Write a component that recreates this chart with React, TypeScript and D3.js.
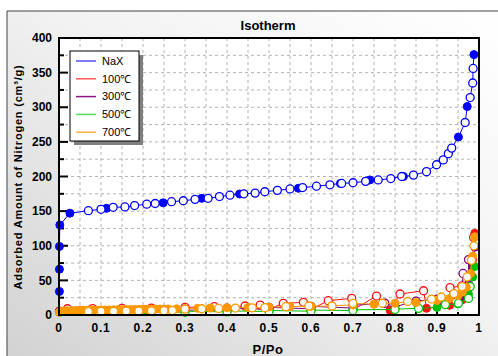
import React from 'react';
import * as d3 from 'd3';

// NaX
const naxAdsP = [0.001, 0.001, 0.001, 0.002, 0.026, 0.113, 0.248, 0.34, 0.43, 0.57, 0.67, 0.74, 0.82, 0.951, 0.972, 0.988];
const naxAdsV = [34, 66, 99, 130, 147, 154, 162, 168.5, 174.7, 183, 190, 195, 200, 257, 301, 376];
const naxDesP = [0.07, 0.1, 0.129, 0.157, 0.18, 0.209, 0.229, 0.268, 0.296, 0.324, 0.355, 0.382, 0.407, 0.44, 0.467, 0.49, 0.52, 0.55, 0.58, 0.613, 0.645, 0.673, 0.7, 0.73, 0.76, 0.79, 0.816, 0.844, 0.875, 0.899, 0.915, 0.927, 0.935, 0.967, 0.979, 0.985, 0.986];
const naxDesV = [150.6, 152.6, 155.5, 156, 158, 160, 161, 163.6, 165, 167, 168.5, 171, 173, 175, 176, 178, 180, 182, 184, 186, 188, 190, 191, 193, 195, 197, 200, 202, 207, 217, 224, 233, 241, 278, 314, 335, 356];

// 100℃
const t100AdsP = [0.001, 0.05, 0.1, 0.2, 0.3, 0.4, 0.5, 0.6, 0.7, 0.788, 0.875, 0.93, 0.96, 0.975, 0.985, 0.99];
const t100AdsV = [6, 7, 7, 7.5, 8, 8.5, 8.5, 8, 7.5, 7, 9.6, 14, 22, 40, 80, 118];
const t100DesP = [0.02, 0.08, 0.15, 0.22, 0.3, 0.37, 0.443, 0.479, 0.534, 0.582, 0.641, 0.697, 0.756, 0.812, 0.868, 0.931, 0.959, 0.979, 0.987];
const t100DesV = [9, 9.3, 9.6, 10, 11, 12, 13, 14.4, 16.8, 18.3, 20.7, 24, 27.4, 30.3, 35, 39.5, 42, 79, 112];

// 300℃
const t300AdsP = [0.001, 0.1, 0.2, 0.3, 0.4, 0.5, 0.6, 0.7, 0.8, 0.907, 0.959, 0.975, 0.985, 0.99];
const t300AdsV = [5, 6, 6.5, 7, 7.5, 8, 9, 10, 12, 19, 26, 45, 70, 98];
const t300DesP = [0.4, 0.5, 0.6, 0.7, 0.776, 0.85, 0.9, 0.94, 0.962, 0.975];
const t300DesV = [10, 11, 12.5, 14, 17, 20, 23, 30, 60, 80];

// 500℃
const t500AdsP = [0.001, 0.1, 0.2, 0.3, 0.4, 0.5, 0.6, 0.7, 0.8, 0.9, 0.95, 0.975, 0.985, 0.99];
const t500AdsV = [4, 4.5, 5, 5.5, 6, 6.5, 7, 7.5, 8.5, 11, 16, 30, 55, 70];
const t500DesP = [0.3, 0.4, 0.5, 0.6, 0.7, 0.8, 0.856, 0.92, 0.951, 0.975, 0.979];
const t500DesV = [4, 4.5, 5, 5.5, 6.5, 8, 9.6, 15, 17, 24, 41];

// 700℃
const t700AdsP = [0.001, 0.005, 0.01, 0.015, 0.02, 0.03, 0.04, 0.05, 0.06, 0.07, 0.08, 0.09, 0.1, 0.11, 0.12, 0.13, 0.14, 0.15, 0.16, 0.17, 0.18, 0.19, 0.2, 0.21, 0.22, 0.23, 0.24, 0.25, 0.26, 0.28, 0.3, 0.33, 0.36, 0.4, 0.45, 0.5, 0.55, 0.6, 0.65, 0.7, 0.75, 0.8, 0.85, 0.9, 0.93, 0.95, 0.96, 0.97, 0.98, 0.985, 0.99];
const t700AdsV = [4, 5, 5.5, 5.8, 6, 6.3, 6.5, 6.7, 7, 7, 7, 7.1, 7.2, 7.3, 7.4, 7.5, 7.6, 7.7, 7.8, 7.9, 8, 8.1, 8.2, 8.3, 8.4, 8.5, 8.6, 8.7, 8.8, 9, 9.2, 9.6, 10, 10.5, 11, 11.5, 12, 12.5, 13.5, 14.5, 15.5, 16.8, 18, 21, 24, 28, 33, 40, 60, 85, 113];
const t700DesP = [0.07, 0.1, 0.13, 0.16, 0.19, 0.22, 0.25, 0.27, 0.3, 0.34, 0.38, 0.42, 0.46, 0.49, 0.54, 0.595, 0.65, 0.7, 0.77, 0.83, 0.887, 0.91, 0.94, 0.96, 0.972, 0.982, 0.988];
const t700DesV = [5, 5.2, 5.4, 5.6, 5.8, 6, 6.2, 6.4, 8.5, 9, 9.5, 10, 10.3, 10.6, 12, 13, 13, 16.8, 17, 19.5, 23, 26, 31, 41, 55, 79, 100];

const legendLabels = ['NaX', '100℃', '300℃', '500℃', '700℃'];
const legendColors = ['#5050ff', '#ff5a5a', '#8a1a8a', '#55dd55', '#ffb040'];
const markColors = ['#0000ff', '#ff1010', '#800080', '#00c000', '#ff9900'];

const xTicks = [0, 0.1, 0.2, 0.3, 0.4, 0.5, 0.6, 0.7, 0.8, 0.9, 1];
const yTicks = [0, 50, 100, 150, 200, 250, 300, 350, 400];

const series = [
  { aP: naxAdsP, aV: naxAdsV, dP: naxDesP, dV: naxDesV },
  { aP: t100AdsP, aV: t100AdsV, dP: t100DesP, dV: t100DesV },
  { aP: t300AdsP, aV: t300AdsV, dP: t300DesP, dV: t300DesV },
  { aP: t500AdsP, aV: t500AdsV, dP: t500DesP, dV: t500DesV },
  { aP: t700AdsP, aV: t700AdsV, dP: t700DesP, dV: t700DesV },
];

export default function App() {
  const W = 498, H = 356;
  const x = d3.scaleLinear().domain([0, 1]).range([59, 479]);
  const y = d3.scaleLinear().domain([0, 400]).range([315, 38]);
  const [x0, x1] = x.range();
  const [y0, y1] = y.range();

  const xGrid = d3.range(0.05, 1, 0.05);
  const yGrid = d3.range(25, 400, 25);

  // one line through every point of a sample, ordered by P
  const linePath = (s: typeof series[0]) => {
    const pts: [number, number][] = [
      ...s.aP.map((p, i) => [p, s.aV[i]] as [number, number]),
      ...s.dP.map((p, i) => [p, s.dV[i]] as [number, number]),
    ].sort((a, b) => a[0] - b[0] || a[1] - b[1]);
    return d3.line<[number, number]>().x(d => x(d[0])).y(d => y(d[1]))(pts) || '';
  };

  const font = 'Arial, "Liberation Sans", sans-serif';

  return (
    <svg width={W} height={H} style={{ position: 'absolute', left: 0, top: 0 }} fontFamily={font}>
      <defs>
        <linearGradient id="bg" x1="0" y1="1" x2="1" y2="0">
          <stop offset="0" stopColor="#d2d2d2" />
          <stop offset="0.55" stopColor="#f2f2f2" />
          <stop offset="1" stopColor="#ffffff" />
        </linearGradient>
        <clipPath id="plot">
          <rect x={x0 - 5} y={y1} width={x1 - x0 + 5} height={y0 - y1 + 5} />
        </clipPath>
      </defs>
      <rect x={0} y={0} width={W} height={H} fill="#fff" />
      <rect x={7} y={11} width={W - 7} height={H - 11} fill="url(#bg)" />
      <line x1={7} y1={11} x2={W} y2={11} stroke="#444" strokeWidth={1} />
      <line x1={7} y1={11} x2={7} y2={H} stroke="#444" strokeWidth={1} />

      <text x={268} y={30} textAnchor="middle" fontWeight="bold" fontSize={13}>Isotherm</text>

      <rect x={x0} y={y1} width={x1 - x0} height={y0 - y1} fill="#fff" />

      {xGrid.map(v => (
        <line key={'gx' + v} x1={x(v)} x2={x(v)} y1={y1} y2={y0} stroke="#b4b4b4" strokeDasharray="3,3" />
      ))}
      {yGrid.map(v => (
        <line key={'gy' + v} x1={x0} x2={x1} y1={y(v)} y2={y(v)} stroke="#b4b4b4" strokeDasharray="3,3" />
      ))}

      {/* inward ticks */}
      {d3.range(0, 401, 25).map(v => (
        <line key={'ty' + v} x1={x0} x2={x0 + (v % 50 === 0 ? 9 : 5)} y1={y(v)} y2={y(v)} stroke="#000" strokeWidth={2} />
      ))}
      {d3.range(0, 1.001, 0.05).map((v, i) => (
        <line key={'tx' + i} x1={x(v)} x2={x(v)} y1={y0} y2={y0 - (i % 2 === 0 ? 6 : 3)} stroke="#000" strokeWidth={2} />
      ))}

      <g clipPath="url(#plot)">
        {series.map((s, si) => (
          <g key={'s' + si}>
            <path d={linePath(s)} fill="none" stroke={markColors[si]} strokeWidth={1} />
            {s.aP.map((p, i) => (
              <circle key={'a' + i} cx={x(p)} cy={y(s.aV[i])} r={4} fill={markColors[si]} stroke={markColors[si]} strokeWidth={1} />
            ))}
            {s.dP.map((p, i) => (
              <circle key={'d' + i} cx={x(p)} cy={y(s.dV[i])} r={4} fill="#fff" stroke={markColors[si]} strokeWidth={1.3} />
            ))}
          </g>
        ))}
      </g>

      <rect x={x0} y={y1} width={x1 - x0} height={y0 - y1} fill="none" stroke="#000" strokeWidth={2} />

      {yTicks.map(v => (
        <text key={'ly' + v} x={52} y={y(v)} dy="0.35em" textAnchor="end" fontWeight="bold" fontSize={12}>{v}</text>
      ))}
      {xTicks.map(v => (
        <text key={'lx' + v} x={x(v)} y={332} textAnchor="middle" fontWeight="bold" fontSize={12} letterSpacing={0.8}>{v}</text>
      ))}

      <text x={268} y={354} textAnchor="middle" fontWeight="bold" fontSize={13} letterSpacing={0.5}>P/Po</text>
      <text transform="translate(22,177) rotate(-90)" textAnchor="middle" fontWeight="bold" fontSize={11} letterSpacing={0.8}>
        Adsorbed Amount of Nitrogen (cm³/g)
      </text>

      {/* legend */}
      <rect x={74} y={55} width={69} height={90} fill="#808080" />
      <rect x={70} y={51} width={69} height={90} fill="#fff" stroke="#000" strokeWidth={1} />
      {legendLabels.map((l, i) => (
        <g key={'lg' + i} transform={`translate(0,${61 + i * 17.8})`}>
          <line x1={76} x2={96} y1={0} y2={0} stroke={legendColors[i]} strokeWidth={1.5} />
          <text x={102} y={0} dy="0.35em" fontSize={11}>{l}</text>
        </g>
      ))}
    </svg>
  );
}
